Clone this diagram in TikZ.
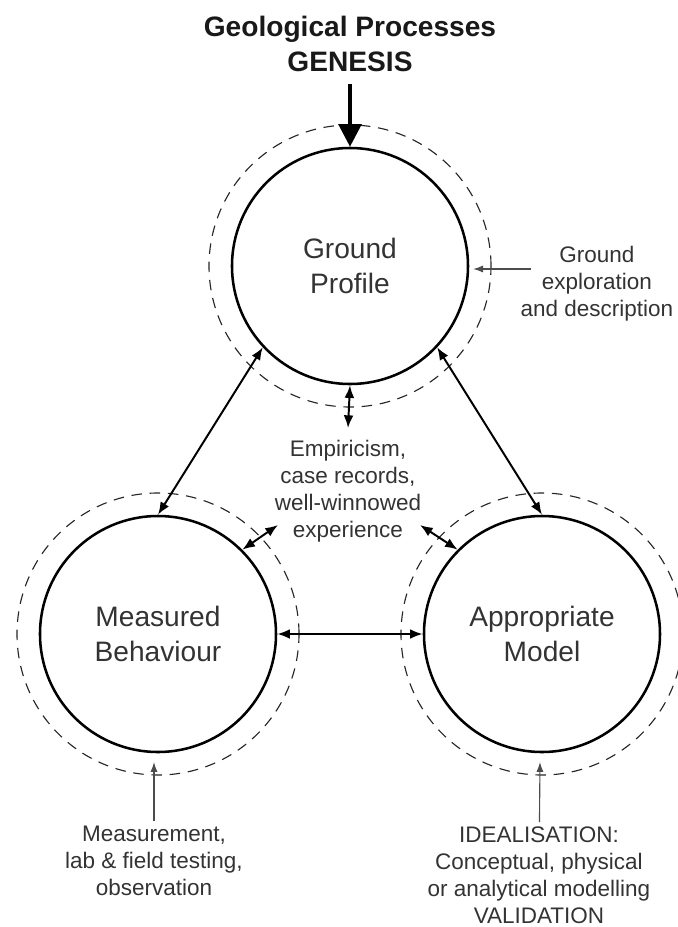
\documentclass[tikz,border=0pt]{standalone}
\usepackage{fontspec}
\setmainfont{Liberation Sans}
\usetikzlibrary{arrows.meta}

\begin{document}
\begin{tikzpicture}[
        >=Latex,
        every node/.style={align=center, text=black!80},
        phase/.style={draw=black, circle, line width=1.8pt, minimum size=5.9cm, inner sep=0pt, font=\fontsize{20}{24.6}\selectfont},
        halo/.style={draw=black!85, line width=0.8pt, dash pattern=on 7.5pt off 5.5pt},
        note/.style={font=\fontsize{16}{19.2}\selectfont},
        link/.style={<->, line width=1.4pt, >={Latex[length=9pt,width=7pt]}},
        feed/.style={->, draw=black!70, line width=0.8pt, >={Latex[length=7pt,width=5pt]}}
    ]
        \useasboundingbox (-8.75,6.65) rectangle (8.2,-16.525);

        \node[font=\bfseries\fontsize{20}{24.9}\selectfont, text=black!90] (genesis) at (0,5.54) {Geological Processes\\GENESIS};

        \node[phase] (gp) at (0,0) {Ground\\Profile};
        \node[phase] (mb) at (-4.8,-9.2) {Measured\\Behaviour};
        \node[phase] (am) at (4.8,-9.2) {Appropriate\\Model};

        \draw[halo] (gp) circle (3.525);
        \draw[halo] (mb) circle (3.525);
        \draw[halo] (am) circle (3.525);

        \node[note] (emp) at (-0.05,-5.64) {Empiricism,\\case records,\\well-winnowed\\experience};
        \node[note] (expl) at (6.175,-0.45) {Ground\\exploration\\and description};
        \node[note] (meas) at (-4.9,-14.875) {Measurement,\\lab \& field testing,\\observation};
        \node[note] (ideal) at (4.725,-15.24) {IDEALISATION:\\Conceptual, physical\\or analytical modelling\\VALIDATION};

        \coordinate (gpin) at (3.08,-0.075);
        \coordinate (mbin) at (-4.9,-12.4);
        \coordinate (amin) at (4.75,-12.4);
        \coordinate (e1) at (-0.05,-4.05);
        \coordinate (e2) at (-1.8,-6.475);
        \coordinate (e3) at (1.75,-6.475);

        \draw[->, line width=2.8pt, >={Triangle[length=16pt,width=16pt]}, shorten <=5pt] (genesis) -- (gp);

        \draw[link] (gp.223) -- (mb.north);
        \draw[link] (gp.317) -- (am.north);
        \draw[link] (gp.south) -- (e1);
        \draw[link] (mb.45) -- (e2);
        \draw[link] (am.135) -- (e3);
        \draw[link, line width=1.6pt] (mb.east) -- (am.west);

        \draw[feed] ([xshift=11pt]expl.west |- gpin) -- (gpin);
        \draw[feed] (meas) -- (mbin);
        \draw[feed] (ideal) -- (amin);
    \end{tikzpicture}
\end{document}
